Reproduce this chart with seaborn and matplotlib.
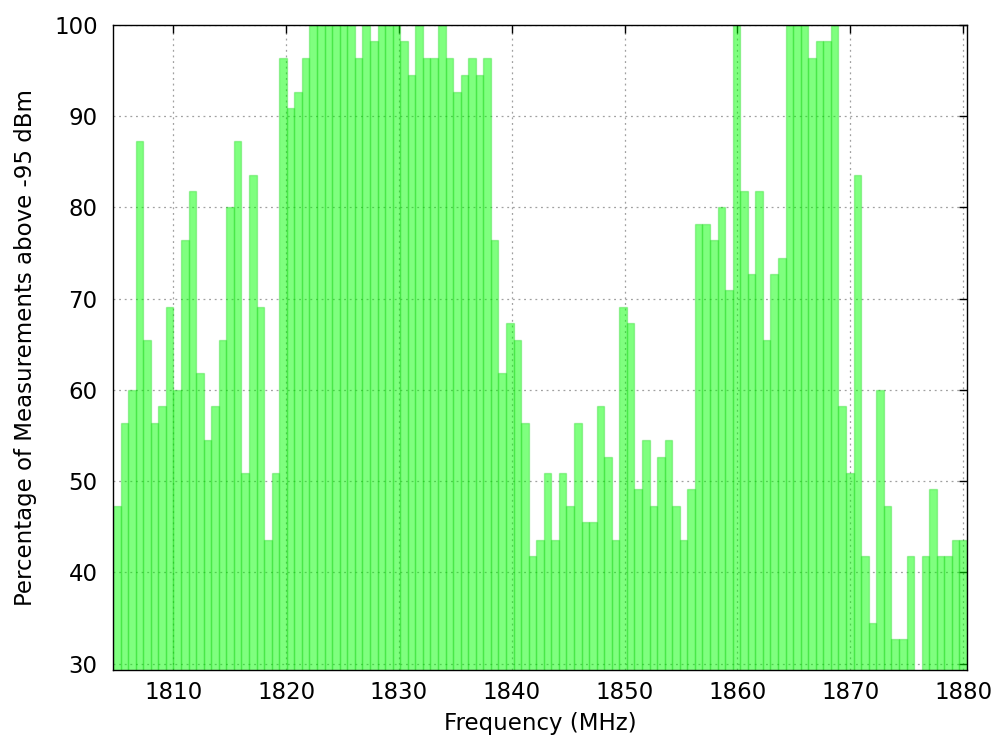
import numpy as np
import matplotlib
matplotlib.use("Agg")
import matplotlib.pyplot as plt
import seaborn as sns

# 113 frequency bins between 1805 and 1880 MHz
freqs = np.linspace(1805, 1880, 113)

pct = [
    47.3, 56.4, 60.0, 87.3, 65.5, 56.4, 58.2, 69.1, 60.0, 76.4,
    81.8, 61.8, 54.5, 58.2, 65.5, 80.0, 87.3, 50.9, 83.6, 69.1,
    43.6, 50.9, 96.4, 90.9, 92.7, 96.4, 100.0, 100.0, 100.0, 100.0,
    100.0, 100.0, 96.4, 100.0, 98.2, 100.0, 100.0, 100.0, 98.2, 94.5,
    100.0, 96.4, 96.4, 100.0, 96.4, 92.7, 94.5, 96.4, 94.5, 96.4,
    76.4, 61.8, 67.3, 65.5, 56.4, 41.8, 43.6, 50.9, 43.6, 50.9,
    47.3, 56.4, 45.5, 45.5, 58.2, 52.7, 43.6, 69.1, 67.3, 49.1,
    54.5, 47.3, 52.7, 54.5, 47.3, 43.6, 49.1, 78.2, 78.2, 76.4,
    80.0, 70.9, 100.0, 81.8, 72.7, 81.8, 65.5, 72.7, 74.5, 100.0,
    100.0, 100.0, 96.4, 98.2, 98.2, 100.0, 58.2, 50.9, 83.6, 41.8,
    34.5, 60.0, 47.3, 32.7, 32.7, 41.8, 27.3, 41.8, 49.1, 41.8,
    41.8, 43.6, 43.6,
]

sns.set_style("white")
plt.rcParams['font.family'] = ['DejaVu Sans']

fig = plt.figure(figsize=(10.01, 7.49), dpi=100)
ax = fig.add_axes([0.1129, 0.1055, 0.8531, 0.8611])

sns.barplot(x=freqs, y=pct, native_scale=True, width=1.0,
            facecolor=(0.0, 1.0, 0.0, 0.5), edgecolor=(0.0, 0.8, 0.0, 0.28),
            linewidth=1.0, ax=ax, zorder=2)

ax.set_xlim(1804.665, 1880.335)
ax.set_ylim(29.3, 100)
ax.set_xticks(np.arange(1810, 1881, 10))
ax.set_yticks(np.arange(30, 101, 10))

ax.grid(True, color="#a0a0a0", linestyle=(0, (1.5, 3)), linewidth=0.9, zorder=1)
ax.set_axisbelow(True)

ax.tick_params(direction="in", length=6, width=1, top=True, right=True,
               labelsize=16.5, colors="black")
ax.tick_params(axis="x", pad=8)
ax.tick_params(axis="y", pad=11)
for s in ax.spines.values():
    s.set_visible(True)
    s.set_color("black")
    s.set_linewidth(1.0)

ax.set_xlabel("Frequency (MHz)", fontsize=16.5, labelpad=6, color="black")
ax.set_ylabel("Percentage of Measurements above -95 dBm", fontsize=16.5,
              labelpad=12, color="black")

fig.savefig("out.png", dpi=100)
